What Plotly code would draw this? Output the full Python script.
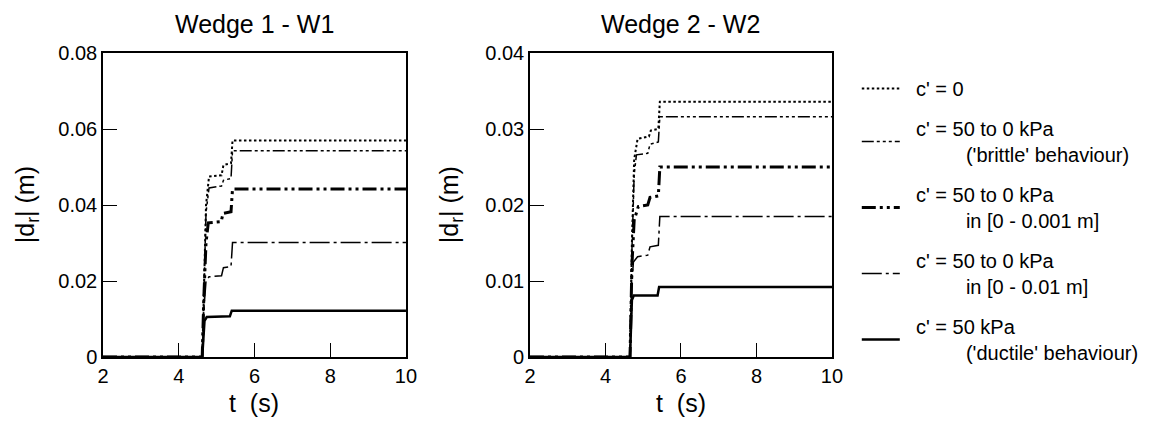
import plotly.graph_objects as go

# ---------------- data ----------------
# Wedge 1 - W1  (t in s, |dr| in m)
w1_t_c0 = [2, 4.62, 4.66, 4.72, 4.80, 5.13, 5.18, 5.38, 5.42, 10]
w1_d_c0 = [0, 0, 0.015, 0.040, 0.0475, 0.0478, 0.0505, 0.051, 0.057, 0.057]
w1_t_brittle = [2, 4.62, 4.66, 4.72, 4.80, 5.13, 5.18, 5.38, 5.42, 10]
w1_d_brittle = [0, 0, 0.015, 0.038, 0.0445, 0.045, 0.0465, 0.047, 0.0543, 0.0543]
w1_t_001mm = [2, 4.62, 4.66, 4.72, 4.78, 5.12, 5.17, 5.38, 5.42, 10]
w1_d_001mm = [0, 0, 0.015, 0.030, 0.0353, 0.0356, 0.0378, 0.0382, 0.0442, 0.0442]
w1_t_01m = [2, 4.62, 4.66, 4.72, 4.80, 5.13, 5.18, 5.38, 5.42, 10]
w1_d_01m = [0, 0, 0.012, 0.020, 0.0211, 0.0214, 0.0235, 0.0238, 0.0301, 0.0301]
w1_t_ductile = [2, 4.62, 4.68, 4.74, 5.35, 5.40, 10]
w1_d_ductile = [0, 0, 0.0095, 0.0105, 0.0107, 0.0122, 0.0122]

# Wedge 2 - W2
w2_t_c0 = [2, 4.65, 4.70, 4.76, 4.85, 5.15, 5.20, 5.40, 5.44, 10]
w2_d_c0 = [0, 0, 0.015, 0.026, 0.0287, 0.029, 0.0298, 0.030, 0.0336, 0.0336]
w2_t_brittle = [2, 4.65, 4.70, 4.76, 4.82, 5.12, 5.18, 5.40, 5.44, 10]
w2_d_brittle = [0, 0, 0.014, 0.024, 0.0266, 0.0268, 0.028, 0.0283, 0.0316, 0.0316]
w2_t_001mm = [2, 4.65, 4.70, 4.76, 4.87, 5.12, 5.18, 5.40, 5.44, 10]
w2_d_001mm = [0, 0, 0.012, 0.018, 0.0198, 0.020, 0.021, 0.0212, 0.025, 0.025]
w2_t_01m = [2, 4.65, 4.69, 4.74, 4.85, 5.12, 5.18, 5.40, 5.44, 10]
w2_d_01m = [0, 0, 0.009, 0.0125, 0.0132, 0.0134, 0.0145, 0.0147, 0.0185, 0.0185]
w2_t_ductile = [2, 4.65, 4.70, 4.75, 5.38, 5.42, 10]
w2_d_ductile = [0, 0, 0.0075, 0.0081, 0.0081, 0.0092, 0.0092]

NB = "\u00a0"
series_names = [
    NB * 2 + "c' = 0",
    NB * 2 + "c' = 50 to 0 kPa<br>" + NB * 11 + "('brittle' behaviour)",
    NB * 2 + "c' = 50 to 0 kPa<br>" + NB * 11 + "in [0 - 0.001 m]",
    NB * 2 + "c' = 50 to 0 kPa<br>" + NB * 11 + "in [0 - 0.01 m]",
    NB * 2 + "c' = 50 kPa<br>" + NB * 11 + "('ductile' behaviour)",
]
subplot_titles = ["Wedge 1 - W1", "Wedge 2 - W2"]
x_title = "t\u00a0\u00a0(s)"
x_ticks = [2, 4, 6, 8, 10]
w1_y_ticks = [0, 0.02, 0.04, 0.06, 0.08]
w1_y_text = ["0", "0.02", "0.04", "0.06", "0.08"]
w2_y_ticks = [0, 0.01, 0.02, 0.03, 0.04]
w2_y_text = ["0", "0.01", "0.02", "0.03", "0.04"]

# ---------------- styles ----------------
styles = [
    dict(color="black", width=2, dash="2.5px,2.5px"),
    dict(color="black", width=1.5, dash="12px,3px,3px,3px,3px,3px,3px,3px"),
    dict(color="black", width=3, dash="14px,4px,3px,4px,3px,4px"),
    dict(color="black", width=1.5, dash="20px,4px,3px,4px"),
    dict(color="black", width=2.5),
]

w1 = [(w1_t_c0, w1_d_c0), (w1_t_brittle, w1_d_brittle), (w1_t_001mm, w1_d_001mm),
      (w1_t_01m, w1_d_01m), (w1_t_ductile, w1_d_ductile)]
w2 = [(w2_t_c0, w2_d_c0), (w2_t_brittle, w2_d_brittle), (w2_t_001mm, w2_d_001mm),
      (w2_t_01m, w2_d_01m), (w2_t_ductile, w2_d_ductile)]

fig = go.Figure()
for i, (t, d) in enumerate(w1):
    fig.add_trace(go.Scatter(x=t, y=d, mode="lines", line=styles[i], name=series_names[i],
                             legendgroup=f"g{i}", showlegend=True, xaxis="x", yaxis="y"))
for i, (t, d) in enumerate(w2):
    fig.add_trace(go.Scatter(x=t, y=d, mode="lines", line=styles[i], name=series_names[i],
                             legendgroup=f"g{i}", showlegend=False, xaxis="x2", yaxis="y2"))

FONT = "Arial"
axis_common = dict(showline=True, linecolor="black", linewidth=1.5, mirror=True,
                   ticks="inside", ticklen=14, tickwidth=1, tickcolor="black",
                   showgrid=False, zeroline=False, automargin=False,
                   tickfont=dict(family=FONT, size=20, color="black"))

# page body adds an 8px offset; figure is sized so the plot areas land in place
fig.update_layout(
    width=1143, height=415,
    margin=dict(l=95, r=319, t=45, b=66, autoexpand=False),
    paper_bgcolor="white", plot_bgcolor="white",
    font=dict(family=FONT, color="black"),
    xaxis=dict(domain=[0, 0.4156], range=[2, 10], tickvals=x_ticks, anchor="y",
               **axis_common),
    yaxis=dict(domain=[0, 1], range=[0, 0.08], tickvals=w1_y_ticks, ticktext=w1_y_text,
               anchor="x", **axis_common),
    xaxis2=dict(domain=[0.5857, 1], range=[2, 10], tickvals=x_ticks, anchor="y2",
                **axis_common),
    yaxis2=dict(domain=[0, 1], range=[0, 0.04], tickvals=w2_y_ticks, ticktext=w2_y_text,
                anchor="x2", **axis_common),
    legend=dict(x=1.034, y=0.947, xanchor="left", yanchor="top",
                font=dict(family=FONT, size=20, color="black"),
                tracegroupgap=11, itemwidth=38, bgcolor="rgba(0,0,0,0)",
                maxheight=410),
    showlegend=True,
)

annotations = [
    dict(text=subplot_titles[0], x=0.2078, y=1, xref="paper", yref="paper",
         xanchor="center", yanchor="bottom", yshift=13, showarrow=False,
         font=dict(family=FONT, size=25)),
    dict(text=subplot_titles[1], x=0.7928, y=1, xref="paper", yref="paper",
         xanchor="center", yanchor="bottom", yshift=13, showarrow=False,
         font=dict(family=FONT, size=25)),
    dict(text=x_title, x=0.2078, y=0, xref="paper", yref="paper",
         xanchor="center", yanchor="top", yshift=-31, showarrow=False, borderpad=0,
         font=dict(family=FONT, size=25)),
    dict(text=x_title, x=0.7928, y=0, xref="paper", yref="paper",
         xanchor="center", yanchor="top", yshift=-31, showarrow=False, borderpad=0,
         font=dict(family=FONT, size=25)),
    dict(text="|d<sub>r</sub>|\u00a0(m)", x=-0.104, y=0.5, xref="paper", yref="paper",
         xanchor="center", yanchor="middle", textangle=-90, showarrow=False,
         font=dict(family=FONT, size=25)),
    dict(text="|d<sub>r</sub>|\u00a0(m)", x=0.4777, y=0.5, xref="paper", yref="paper",
         xanchor="center", yanchor="middle", textangle=-90, showarrow=False,
         font=dict(family=FONT, size=25)),
]
fig.update_layout(annotations=annotations)

fig.write_html("out.html")
